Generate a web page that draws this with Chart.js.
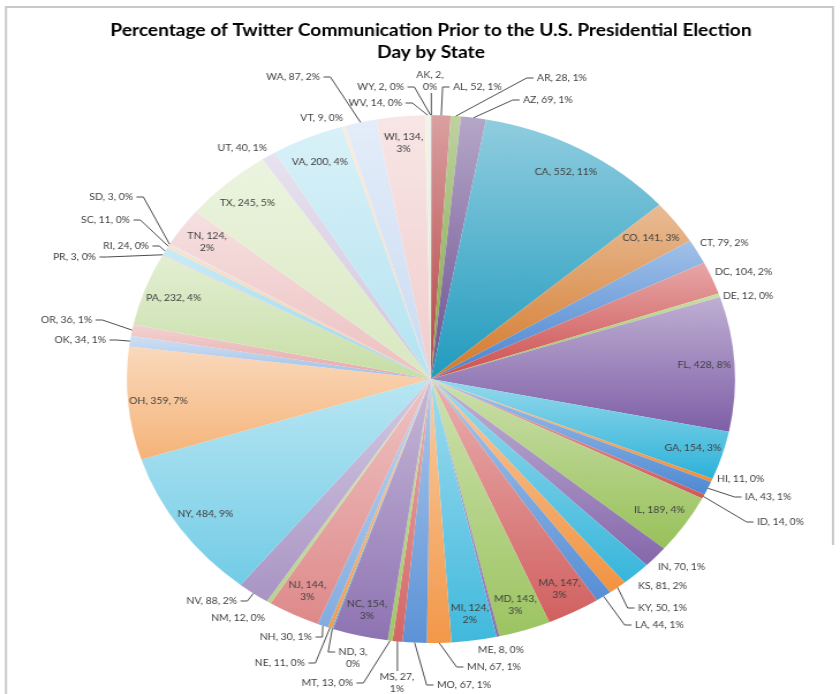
<!DOCTYPE html>
<html>
<head>
<meta charset="utf-8">
<title>Twitter Communication by State</title>
<script src="https://cdn.jsdelivr.net/npm/chart.js@4.4.1/dist/chart.umd.min.js"></script>
<style>
  html, body { margin: 0; padding: 0; background: #fff; }
</style>
</head>
<body>
<!-- drawn at 729px wide, shown at 840px: the pie comes out as a wide ellipse -->
<canvas id="stateChart" width="729" height="694" style="width:840px;height:694px"></canvas>
<script>
const states = ["AK", "AL", "AR", "AZ", "CA", "CO", "CT", "DC", "DE", "FL", "GA", "HI", "IA",
  "ID", "IL", "IN", "KS", "KY", "LA", "MA", "MD", "ME", "MI", "MN", "MO", "MS", "MT", "NC",
  "ND", "NE", "NH", "NJ", "NM", "NV", "NY", "OH", "OK", "OR", "PA", "PR", "RI", "SC", "SD",
  "TN", "TX", "UT", "VA", "VT", "WA", "WI", "WV", "WY"];
const tweets = [2, 52, 28, 69, 552, 141, 79, 104, 12, 428, 154, 11, 43,
  14, 189, 70, 81, 50, 44, 147, 143, 8, 124, 67, 67, 27, 13, 154,
  3, 11, 30, 144, 12, 88, 484, 359, 34, 36, 232, 3, 24, 11, 3,
  124, 245, 40, 200, 9, 87, 134, 14, 2];

const titleLines = ["Percentage of Twitter Communication Prior to the U.S. Presidential Election", "Day by State"];

const total = tweets.reduce((a, b) => a + b, 0);
const before = tweets.map((v, i) => tweets.slice(0, i).reduce((a, b) => a + b, 0));

// horizontal squeeze of the drawing buffer against the displayed width
const SX = 729 / 840;

// six theme hues, repeated round the pie; first pass a touch darker, later passes paler
const hues = ["#3f7fcf", "#cc4a4a", "#8fbc4c", "#7a5aa4", "#26b0d8", "#f08a30"];
const passTint = [-0.12, 0.03, 0.08, 0.12, 0.15, 0.35, 0.5, 0.65, 0.72];

function mix(hex, target, t) {
  const a = parseInt(hex.slice(1), 16), b = parseInt(target.slice(1), 16);
  const ch = s => Math.round(((a >> s) & 255) * (1 - t) + ((b >> s) & 255) * t);
  return "#" + ((1 << 24) + (ch(16) << 16) + (ch(8) << 8) + ch(0)).toString(16).slice(1);
}

function sliceColour(i) {
  const t = passTint[Math.floor(i / 6)];
  return t < 0 ? mix(hues[i % 6], "#000000", -t) : mix(hues[i % 6], "#ffffff", t);
}

// each wedge is lit from above: pale at its top, full colour at its bottom
function wedgeFill(c) {
  const i = c.dataIndex;
  const base = sliceColour(i);
  const area = c.chart.chartArea;
  if (!area) return base;
  const cy = (area.top + area.bottom) / 2;
  const r = Math.min(area.right - area.left, area.bottom - area.top) / 2;
  const a0 = -Math.PI / 2 + 2 * Math.PI * before[i] / total;
  const a1 = a0 + 2 * Math.PI * tweets[i] / total;
  const ys = [cy, cy + r * Math.sin(a0), cy + r * Math.sin(a1)];
  if (a0 < Math.PI / 2 && a1 > Math.PI / 2) ys.push(cy + r);
  const top = Math.min(...ys), bottom = Math.max(...ys);
  const g = c.chart.ctx.createLinearGradient(0, top, 0, bottom + 0.01);
  g.addColorStop(0, mix(base, "#ffffff", 0.5));
  g.addColorStop(1, base);
  return g;
}

function labelText(i) {
  return `${states[i]}, ${tweets[i]}, ${Math.round(tweets[i] / total * 100)}%`;
}

function splitLabel(text) {
  const k = text.lastIndexOf(", ");
  return [text.slice(0, k + 1), text.slice(k + 2)];
}

// labels set inside the wedge, with their number of lines
const insideLabels = {
  CA: 1, CO: 1, FL: 1, GA: 1, IL: 1, MA: 2, MD: 2, MI: 2, NC: 2, NJ: 2,
  NY: 1, OH: 1, PA: 1, TN: 2, TX: 1, VA: 1, WI: 2
};

// outside labels: x, y (display px), text alignment, leader line
const outsideSpots = {
  AK: [430, 75, "center", "v"],
  AL: [453, 87, "left", 1],
  AR: [537, 78, "left", 1],
  AZ: [523, 100, "left", 1],
  CT: [700, 243, "left", 0],
  DC: [715, 272, "left", 0],
  DE: [723, 296, "left", 0],
  HI: [717, 479, "left", 0],
  IA: [745, 497, "left", 1],
  ID: [757, 522, "left", 1],
  IN: [658, 567, "left", 0],
  KS: [638, 586, "left", 0],
  KY: [638, 608, "left", 1],
  LA: [635, 625, "left", 1],
  ME: [478, 650, "left", 0],
  MN: [467, 667, "left", 1],
  MO: [437, 685, "left", 1],
  MS: [397, 677, "center", "v"],
  MT: [353, 683, "right", 1],
  ND: [353, 652, "center", 1],
  NE: [305, 663, "right", 1],
  NH: [312, 637, "right", 1],
  NM: [265, 618, "right", 0],
  NV: [237, 601, "right", 1],
  OK: [106, 340, "right", 1],
  OR: [92, 320, "right", 1],
  PR: [96, 257, "right", 1],
  RI: [149, 246, "right", 1],
  SC: [130, 220, "right", 1],
  SD: [133, 197, "right", 1],
  UT: [267, 148, "right", 0],
  VT: [343, 118, "right", 0],
  WA: [320, 77, "right", 1],
  WV: [402, 103, "right", 1],
  WY: [404, 87, "right", 1]
};

const lineGap = 12;

const sliceLabels = {
  id: "sliceLabels",
  afterDatasetsDraw(chart) {
    const ctx = chart.ctx;
    const arcs = chart.getDatasetMeta(0).data;
    ctx.save();
    ctx.font = "9px Lato";
    ctx.fillStyle = "#404040";
    ctx.strokeStyle = "#4d4d4d";
    ctx.lineWidth = 1;
    ctx.textBaseline = "middle";
    arcs.forEach((arc, i) => {
      const st = states[i];
      const mid = (arc.startAngle + arc.endAngle) / 2;
      const text = labelText(i);
      if (insideLabels[st]) {
        const lines = insideLabels[st] === 2 ? splitLabel(text) : [text];
        const x = arc.x + Math.cos(mid) * arc.outerRadius * 0.9;
        const y = arc.y + Math.sin(mid) * arc.outerRadius * 0.9;
        ctx.textAlign = "center";
        lines.forEach((ln, k) => ctx.fillText(ln, x, y + (k - (lines.length - 1) / 2) * lineGap));
        return;
      }
      const [px, y, align, lead] = outsideSpots[st];
      const x = px * SX;
      const lines = align === "center" ? splitLabel(text) : [text];
      ctx.textAlign = align;
      lines.forEach((ln, k) => ctx.fillText(ln, x, y + k * lineGap));
      if (!lead) return;
      const ex = arc.x + Math.cos(mid) * arc.outerRadius;
      const ey = arc.y + Math.sin(mid) * arc.outerRadius;
      ctx.beginPath();
      if (lead === "v") {
        const y0 = ey > y ? y + (lines.length - 1) * lineGap + 6 : y - 6;
        ctx.moveTo(ex, y0);
        ctx.lineTo(ex, ey);
      } else {
        const w = ctx.measureText(lines[0]).width;
        let sx;
        if (align === "left") sx = x - 3;
        else if (align === "right") sx = x + 3;
        else sx = ex < x ? x - w / 2 - 3 : x + w / 2 + 3;
        const dir = ex < sx ? -1 : 1;
        ctx.moveTo(sx, y);
        ctx.lineTo(sx + dir * 6, y);
        ctx.lineTo(ex, ey);
      }
      ctx.stroke();
    });
    ctx.restore();
  }
};

// thin grey frame round the chart
const chartFrame = {
  id: "chartFrame",
  beforeDraw(chart) {
    const ctx = chart.ctx;
    ctx.save();
    ctx.strokeStyle = "#c9c9c9";
    ctx.lineWidth = 2;
    ctx.beginPath();
    ctx.moveTo(6 * SX, 694);
    ctx.lineTo(6 * SX, 7);
    ctx.lineTo(833 * SX, 7);
    ctx.lineTo(833 * SX, 545);
    ctx.stroke();
    ctx.restore();
  }
};

new Chart(document.getElementById("stateChart"), {
  type: "pie",
  data: {
    labels: states,
    datasets: [{
      data: tweets,
      backgroundColor: wedgeFill,
      borderWidth: 0,
      hoverOffset: 0
    }]
  },
  options: {
    responsive: false,
    animation: false,
    devicePixelRatio: 1,
    events: [],
    layout: { padding: { left: 19, right: 0, top: 0, bottom: 51 } },
    plugins: {
      legend: { display: false },
      tooltip: { enabled: false },
      title: {
        display: true,
        text: titleLines,
        color: "#000",
        font: { family: "Lato", size: 16.6, weight: "bold", lineHeight: 1.33 },
        padding: { top: 19.5, bottom: 51.5 }
      }
    }
  },
  plugins: [chartFrame, sliceLabels]
});
</script>
</body>
</html>
